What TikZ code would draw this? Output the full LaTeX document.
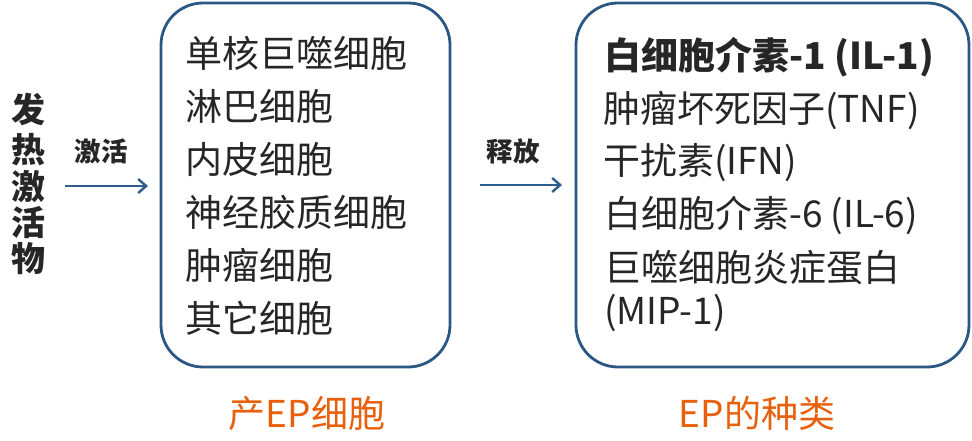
\documentclass[tikz,border=0pt]{standalone}
\usepackage{fontspec}
\setmainfont{Noto Sans CJK SC}
\usetikzlibrary{arrows.meta}
\definecolor{boxblue}{HTML}{2B5784}
\definecolor{arrblue}{HTML}{2E5E8E}
\definecolor{txt}{HTML}{262626}
\definecolor{orng}{HTML}{E8600C}
\begin{document}
\begin{tikzpicture}[x=1pt,y=-1pt,
  panel/.style={draw=boxblue,line width=2.8pt,rounded corners=42pt,inner sep=0pt,outer sep=0pt},
  item/.style={anchor=west,inner sep=0pt,text=txt,font=\fontsize{37}{42}\selectfont},
  captxt/.style={inner sep=0pt,text=orng,font=\fontsize{37}{42}\selectfont},
  vlab/.style={inner sep=0pt,text=txt,font=\fontsize{34}{38}\selectfont\bfseries},
  alab/.style={inner sep=0pt,text=txt,font=\fontsize{26.5}{30}\selectfont\bfseries},
  arr/.style={draw=arrblue,line width=2.4pt,-{Straight Barb[length=8pt,width=14pt,line width=2.4pt]}}]
\useasboundingbox (0,0) rectangle (972,441);
\node[panel,minimum width=289pt,minimum height=364pt] (box1) at (305.5,185) {};
\node[panel,minimum width=393pt,minimum height=364pt] (box2) at (772.5,185) {};
% left vertical text
\node[vlab] (v1) at (28,109) {发};
\node[vlab] (v2) at (28,150) {热};
\node[vlab] (v3) at (28,187) {激};
\node[vlab] (v4) at (28,223) {活};
\node[vlab] (v5) at (28,259) {物};
% arrow 1
\node[alab] (l1) at (101,151) {激活};
\coordinate (a1s) at (65,186);
\coordinate (a1e) at (148,186);
\draw[arr] (a1s) -- (a1e);
% box 1 lines
\node[item] (b1) at (185,53) {单核巨噬细胞};
\node[item] (b2) at (185,106) {淋巴细胞};
\node[item] (b3) at (185,159) {内皮细胞};
\node[item] (b4) at (185,212) {神经胶质细胞};
\node[item] (b5) at (185,265) {肿瘤细胞};
\node[item] (b6) at (185,318) {其它细胞};
\node[captxt] (c1) at (307,413) {产EP细胞};
% arrow 2
\node[alab] (l2) at (513,151) {释放};
\coordinate (a2s) at (480,185);
\coordinate (a2e) at (562,185);
\draw[arr] (a2s) -- (a2e);
% box 2 lines
\node[item,font=\fontsize{37}{42}\selectfont\bfseries] (e1) at (604,57) {白细胞介素-1 (IL-1)};
\node[item] (e2) at (603,110) {肿瘤坏死因子(TNF)};
\node[item] (e3) at (603,163) {干扰素(IFN)};
\node[item] (e4) at (604,215) {白细胞介素-6 (IL-6)};
\node[item] (e5) at (604,268) {巨噬细胞炎症蛋白};
\node[item] (e6) at (604,313) {(MIP-1)};
\node[captxt] (c2) at (757,413) {EP的种类};
\end{tikzpicture}
\end{document}
